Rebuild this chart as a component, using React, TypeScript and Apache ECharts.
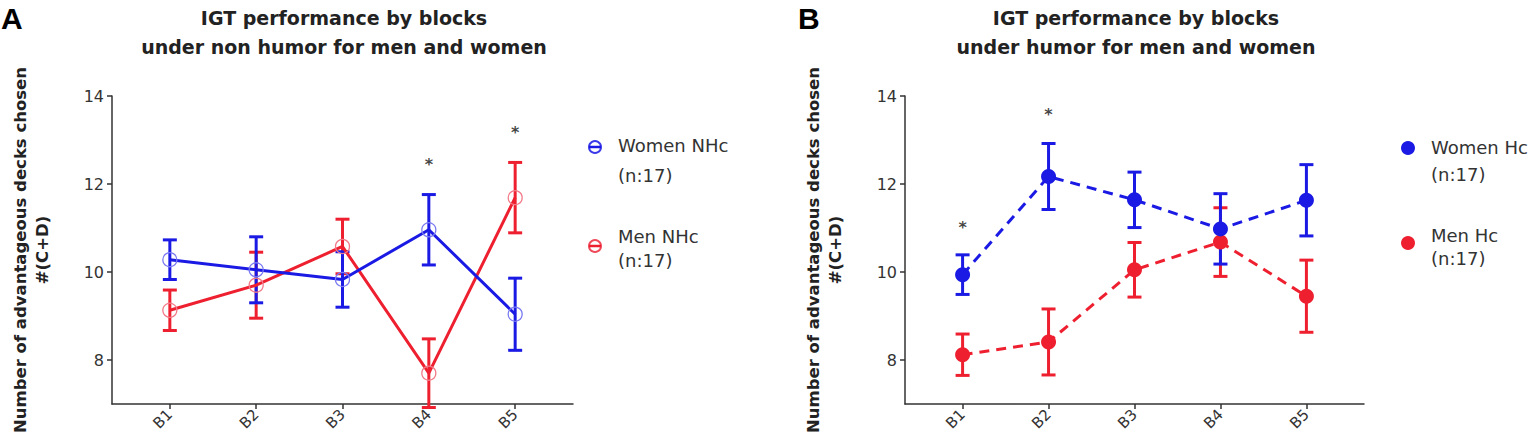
import React, { useEffect, useRef } from "react";
import * as echarts from "echarts";

const blocks = ["B1", "B2", "B3", "B4", "B5"];
const blockPos = [1, 2, 3, 4, 5];
const yTicks = [8, 10, 12, 14];

// Panel A: non humor
const womenNHc = [10.28, 10.05, 9.83, 10.96, 9.04];
const womenNHcSem = [0.45, 0.75, 0.63, 0.8, 0.82];
const menNHc = [9.13, 9.7, 10.58, 7.7, 11.69];
const menNHcSem = [0.46, 0.75, 0.62, 0.78, 0.8];
const starsNHc = [
  [4, 12.48],
  [5, 13.22],
];

// Panel B: humor
const womenHc = [9.94, 12.17, 11.64, 10.98, 11.63];
const womenHcSem = [0.45, 0.75, 0.63, 0.8, 0.81];
const menHc = [8.12, 8.41, 10.05, 10.68, 9.45];
const menHcSem = [0.47, 0.75, 0.62, 0.78, 0.82];
const starsHc = [
  [1, 11.06],
  [2, 13.62],
];

const BLUE = "#1a1ae4";
const RED = "#ee2030";
const FONT = "DejaVu Sans";

function errorBars(name: string, means: number[], sems: number[], color: string, idx: number) {
  return {
    type: "custom",
    name,
    xAxisIndex: idx,
    yAxisIndex: idx,
    silent: true,
    z: 3,
    data: means.map((m, i) => [blockPos[i], m - sems[i], m + sems[i]]),
    encode: { x: 0, y: [1, 2] },
    renderItem: (params: any, api: any) => {
      const x = api.value(0);
      const lo = api.coord([x, api.value(1)]);
      const hi = api.coord([x, api.value(2)]);
      const hw = 7;
      const style = { stroke: color, lineWidth: 3, fill: "none" };
      return {
        type: "group",
        children: [
          { type: "line", shape: { x1: hi[0], y1: hi[1], x2: lo[0], y2: lo[1] }, style },
          { type: "line", shape: { x1: hi[0] - hw, y1: hi[1], x2: hi[0] + hw, y2: hi[1] }, style },
          { type: "line", shape: { x1: lo[0] - hw, y1: lo[1], x2: lo[0] + hw, y2: lo[1] }, style },
        ],
      };
    },
  };
}

function lineSeries(name: string, means: number[], color: string, idx: number, hollow: boolean, markerBorder: string) {
  return {
    type: "line",
    name,
    xAxisIndex: idx,
    yAxisIndex: idx,
    data: means.map((m, i) => [blockPos[i], m]),
    symbol: "circle",
    symbolSize: hollow ? 14 : 15,
    z: 4,
    lineStyle: { color, width: 3, type: hollow ? "solid" : [10, 7] },
    itemStyle: hollow
      ? { color: "rgba(255,255,255,0)", borderColor: markerBorder, borderWidth: 1.3 }
      : { color, borderWidth: 0 },
  };
}

function starSeries(data: number[][], idx: number) {
  return {
    type: "scatter",
    xAxisIndex: idx,
    yAxisIndex: idx,
    silent: true,
    symbolSize: 1,
    itemStyle: { color: "rgba(0,0,0,0)" },
    data,
    label: {
      show: true,
      position: "inside",
      formatter: "*",
      fontSize: 16,
      fontWeight: "bold",
      fontFamily: FONT,
      color: "#111",
      offset: [0, 2],
    },
  };
}

function xAxis(gridIndex: number) {
  return {
    type: "value",
    gridIndex,
    min: 0.33,
    max: 5.67,
    axisLine: { show: true, onZero: false, lineStyle: { color: "#333", width: 1.5 } },
    axisTick: { show: true, customValues: blockPos, length: 5, lineStyle: { color: "#333", width: 1.5 } },
    axisLabel: {
      customValues: blockPos,
      formatter: (v: number) => blocks[Math.round(v) - 1] ?? "",
      rotate: 45,
      fontSize: 15,
      fontFamily: FONT,
      color: "#333",
      margin: 8,
    },
    splitLine: { show: false },
  };
}

function yAxis(gridIndex: number) {
  return {
    type: "value",
    gridIndex,
    min: 7,
    max: 14,
    axisLine: { show: true, onZero: false, lineStyle: { color: "#333", width: 1.5 } },
    axisTick: { show: true, customValues: yTicks, length: 5, lineStyle: { color: "#333", width: 1.5 } },
    axisLabel: { customValues: yTicks, fontSize: 16, fontFamily: FONT, color: "#333", margin: 8 },
    splitLine: { show: false },
    name: "Number of advantageous decks chosen\n#(C+D)",
    nameLocation: "middle",
    nameRotate: 90,
    nameGap: 59,
    nameTextStyle: { fontSize: 16.5, fontWeight: "bold", lineHeight: 22, color: "#222", fontFamily: FONT },
  };
}

function titleText(cx: number, line1: string, line2: string) {
  const font = `bold 19px "${FONT}"`;
  return [
    { type: "text", x: cx, y: 18, style: { text: line1, font, fill: "#222", align: "center", verticalAlign: "middle" } },
    { type: "text", x: cx, y: 47, style: { text: line2, font, fill: "#222", align: "center", verticalAlign: "middle" } },
  ];
}

function legendItem(x: number, yMarker: number, y1: number, y2: number, name: string, color: string, hollow: boolean, border: string) {
  const font = `18px "${FONT}"`;
  const els: any[] = [];
  if (hollow) {
    els.push({ type: "circle", shape: { cx: x, cy: yMarker, r: 6 }, style: { fill: "#fff", stroke: border, lineWidth: 2 } });
    els.push({ type: "line", shape: { x1: x - 6, y1: yMarker, x2: x + 6, y2: yMarker }, style: { stroke: color, lineWidth: 2.5 } });
  } else {
    els.push({ type: "circle", shape: { cx: x, cy: yMarker, r: 7 }, style: { fill: color } });
  }
  els.push({ type: "text", x: x + 23, y: y1, style: { text: name, font, fill: "#333", verticalAlign: "middle" } });
  els.push({ type: "text", x: x + 23, y: y2, style: { text: "(n:17)", font, fill: "#333", verticalAlign: "middle" } });
  return els;
}

export default function App() {
  const ref = useRef<HTMLDivElement>(null);
  useEffect(() => {
    if (!ref.current) return;
    const chart = echarts.init(ref.current, null, { renderer: "svg" });
    chart.setOption({
      animation: false,
      backgroundColor: "#fff",
      grid: [
        { left: 112, top: 96, width: 461, height: 308 },
        { left: 905, top: 96, width: 459, height: 308 },
      ],
      xAxis: [xAxis(0), xAxis(1)],
      yAxis: [yAxis(0), yAxis(1)],
      series: [
        lineSeries("Men NHc", menNHc, RED, 0, true, "#f27a88"),
        lineSeries("Women NHc", womenNHc, BLUE, 0, true, "#7a7af2"),
        errorBars("Men NHc SEM", menNHc, menNHcSem, RED, 0),
        errorBars("Women NHc SEM", womenNHc, womenNHcSem, BLUE, 0),
        starSeries(starsNHc, 0),
        lineSeries("Men Hc", menHc, RED, 1, false, RED),
        lineSeries("Women Hc", womenHc, BLUE, 1, false, BLUE),
        errorBars("Men Hc SEM", menHc, menHcSem, RED, 1),
        errorBars("Women Hc SEM", womenHc, womenHcSem, BLUE, 1),
        starSeries(starsHc, 1),
      ],
      graphic: [
        { type: "text", x: 1, y: 18, style: { text: "A", font: `bold 30px "Liberation Sans"`, fill: "#000", verticalAlign: "middle" } },
        { type: "text", x: 798, y: 18, style: { text: "B", font: `bold 30px "Liberation Sans"`, fill: "#000", verticalAlign: "middle" } },
        ...titleText(344, "IGT performance by blocks", "under non humor for men and women"),
        ...titleText(1136, "IGT performance by blocks", "under humor for men and women"),
        ...legendItem(595, 147, 145, 175, "Women NHc", BLUE, true, "#3a3ae8"),
        ...legendItem(595, 246, 236, 260, "Men NHc", RED, true, "#ef4a5a"),
        ...legendItem(1408, 148, 147, 174, "Women Hc", BLUE, false, BLUE),
        ...legendItem(1408, 243, 235, 258, "Men Hc", RED, false, RED),
      ],
    });
    return () => chart.dispose();
  }, []);
  return <div ref={ref} style={{ position: "fixed", left: 0, top: 0, width: 1535, height: 439 }} />;
}
